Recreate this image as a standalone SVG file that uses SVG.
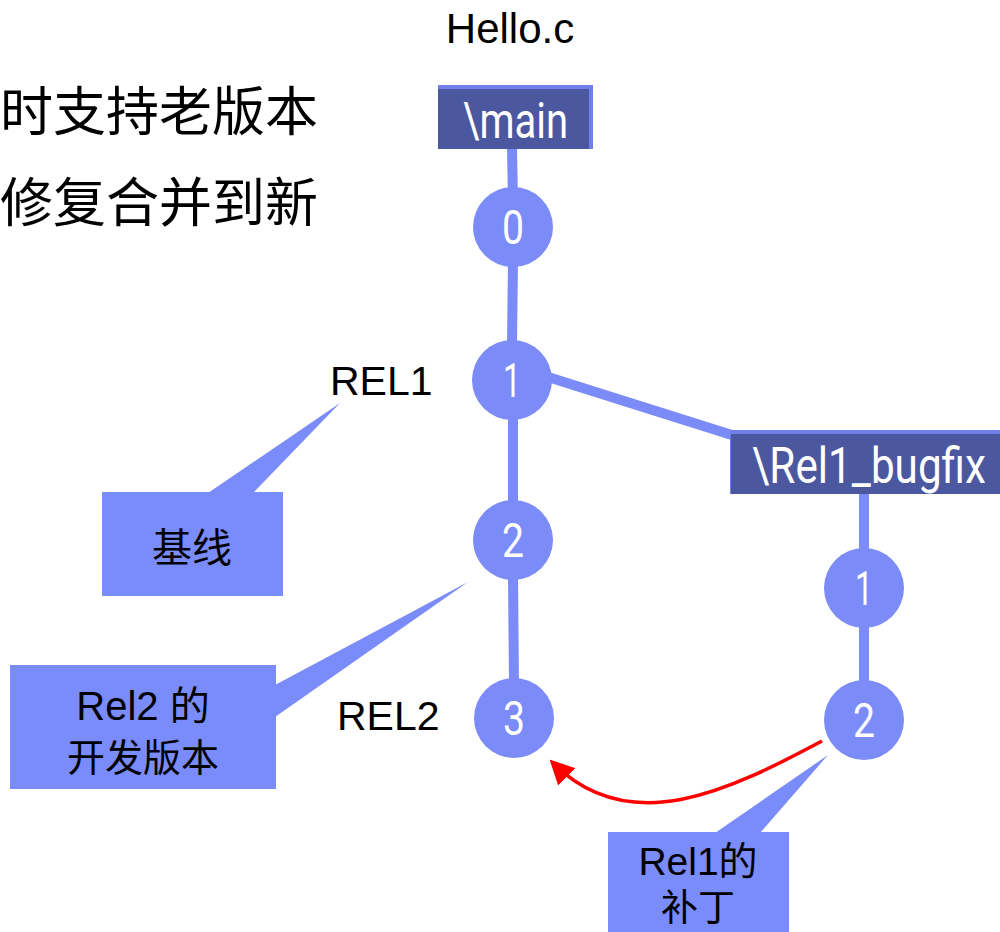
<svg xmlns="http://www.w3.org/2000/svg" width="1000" height="932" viewBox="0 0 1000 932">
<defs>
<style>
.ln{stroke:#7b8bf7;stroke-width:10;fill:none}
.nd{fill:#7b8bf7}
.num{fill:#fff;font-family:"Roboto","Liberation Sans",sans-serif;font-size:48px;text-anchor:middle}
.box{fill:#4b579f}
.boxtop{fill:#7080e8}
.bl{fill:#fff;font-family:"Roboto","Liberation Sans",sans-serif;font-size:50px}
.lbl{fill:#000;font-family:"Liberation Sans","Noto Sans CJK SC",sans-serif}
.cjk{fill:#000;font-family:"Noto Sans CJK SC","Liberation Sans",sans-serif}
.call{fill:#7a8bfa}
</style>
<marker id="ah" viewBox="0 0 10 10" refX="8" refY="5" markerWidth="7" markerHeight="7" orient="auto-start-reverse" markerUnits="strokeWidth">
<path d="M0,0 L10,5 L0,10 z" fill="#ff0000"/>
</marker>
</defs>
<rect width="1000" height="932" fill="#fff"/>

<text class="lbl" x="510" y="43" font-size="42" text-anchor="middle">Hello.c</text>
<text class="cjk" x="0" y="131" font-size="53">时支持老版本</text>
<text class="cjk" x="0" y="222" font-size="53">修复合并到新</text>

<g id="connectors">
<line class="ln" x1="512" y1="148" x2="513" y2="200"/>
<line class="ln" x1="513" y1="260" x2="512" y2="345"/>
<line class="ln" x1="513" y1="415" x2="513" y2="505"/>
<line class="ln" x1="513" y1="575" x2="514" y2="685"/>
<line class="ln" x1="548" y1="377" x2="735" y2="436"/>
<line class="ln" x1="864" y1="494" x2="864" y2="555"/>
<line class="ln" x1="864" y1="620" x2="864" y2="685"/>
<path d="M822,741 C730,790 630,840 553,763" stroke="#ff0000" stroke-width="3.5" fill="none" marker-end="url(#ah)"/>
</g>

<g id="main-branch">
<rect class="boxtop" x="438" y="85" width="155" height="64"/>
<rect class="box" x="438" y="89" width="151" height="60"/>
<text class="bl" x="463" y="138" textLength="105" lengthAdjust="spacingAndGlyphs">\main</text>
</g>

<g id="bugfix-branch">
<rect class="boxtop" x="730" y="430" width="270" height="64"/>
<rect class="box" x="731" y="434" width="269" height="60"/>
<text class="bl" x="752" y="483" textLength="234" lengthAdjust="spacingAndGlyphs">\Rel1_bugfix</text>
</g>

<g id="node-main-0"><circle class="nd" cx="513" cy="227" r="40"/><text class="num" x="513" y="244" textLength="22" lengthAdjust="spacingAndGlyphs">0</text></g>
<g id="node-main-1"><circle class="nd" cx="512" cy="380" r="40"/><text class="num" x="512" y="397" textLength="18" lengthAdjust="spacingAndGlyphs">1</text></g>
<g id="node-main-2"><circle class="nd" cx="513" cy="540" r="40"/><text class="num" x="513" y="557" textLength="22" lengthAdjust="spacingAndGlyphs">2</text></g>
<g id="node-main-3"><circle class="nd" cx="514" cy="718" r="40"/><text class="num" x="514" y="735" textLength="22" lengthAdjust="spacingAndGlyphs">3</text></g>
<g id="node-bug-1"><circle class="nd" cx="864" cy="588" r="40"/><text class="num" x="864" y="605" textLength="18" lengthAdjust="spacingAndGlyphs">1</text></g>
<g id="node-bug-2"><circle class="nd" cx="864" cy="720" r="40"/><text class="num" x="864" y="737" textLength="22" lengthAdjust="spacingAndGlyphs">2</text></g>

<text class="lbl" x="330" y="395" font-size="41">REL1</text>
<text class="lbl" x="337" y="730" font-size="41">REL2</text>

<g id="callout-baseline">
<polygon class="call" points="208,493 253,493 340,403"/>
<rect class="call" x="102" y="492" width="181" height="104"/>
<text class="cjk" x="192" y="562" font-size="40" text-anchor="middle">基线</text>
</g>

<g id="callout-rel2">
<polygon class="call" points="275,685 275,717 468,582"/>
<rect class="call" x="10" y="665" width="266" height="124"/>
<text class="lbl" x="143" y="720" font-size="40" text-anchor="middle">Rel2 的</text>
<text class="cjk" x="143" y="771" font-size="38" text-anchor="middle">开发版本</text>
</g>

<g id="callout-rel1">
<polygon class="call" points="715,833 760,833 828,755"/>
<rect class="call" x="608" y="832" width="181" height="100"/>
<text class="lbl" x="698" y="875" font-size="39" text-anchor="middle">Rel1的</text>
<text class="cjk" x="698" y="921" font-size="37" text-anchor="middle">补丁</text>
</g>
</svg>
